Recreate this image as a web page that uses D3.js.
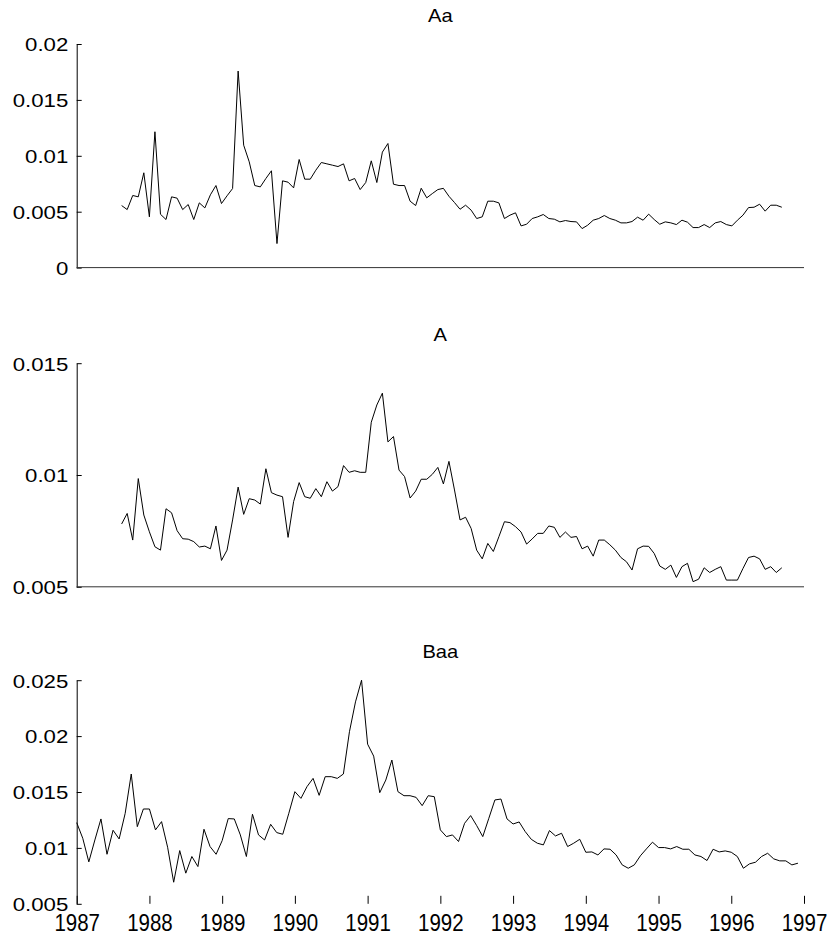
<!DOCTYPE html>
<html>
<head>
<meta charset="utf-8">
<script src="https://cdn.jsdelivr.net/npm/d3@7"></script>
<style>
  html, body { margin: 0; padding: 0; background: #fff; }
  svg { display: block; font-family: "Liberation Sans", Arial, sans-serif; }
</style>
</head>
<body>
<svg id="chart" width="832" height="941"></svg>
<script>
// ---------------- data ----------------
const titles = ["Aa", "A", "Baa"];
const yearTicks = [1987, 1988, 1989, 1990, 1991, 1992, 1993, 1994, 1995, 1996, 1997];
const aaTicks = [0, 0.005, 0.01, 0.015, 0.02];
const aTicks = [0.005, 0.01, 0.015];
const baaTicks = [0.005, 0.01, 0.015, 0.02, 0.025];

// Aa spread, observations 1..120
const aaValues = [
  0.00555, 0.00519, 0.00645, 0.00633, 0.00848, 0.00454, 0.01215, 0.00477, 0.00430, 0.00633,
  0.00621, 0.00519, 0.00564, 0.00430, 0.00579, 0.00534, 0.00651, 0.00734, 0.00573, 0.00642,
  0.00707, 0.01758, 0.01095, 0.00946, 0.00734, 0.00722, 0.00797, 0.00866, 0.00215, 0.00776,
  0.00764, 0.00713, 0.00967, 0.00791, 0.00791, 0.00871, 0.00940, 0.00928, 0.00916, 0.00904,
  0.00928, 0.00776, 0.00797, 0.00698, 0.00761, 0.00955, 0.00761, 0.01033, 0.01110, 0.00746,
  0.00734, 0.00734, 0.00594, 0.00555, 0.00710, 0.00624, 0.00662, 0.00698, 0.00709, 0.00638,
  0.00582, 0.00522, 0.00558, 0.00514, 0.00439, 0.00454, 0.00594, 0.00594, 0.00579, 0.00439,
  0.00469, 0.00490, 0.00373, 0.00388, 0.00439, 0.00454, 0.00475, 0.00439, 0.00433, 0.00409,
  0.00421, 0.00412, 0.00409, 0.00349, 0.00379, 0.00424, 0.00439, 0.00466, 0.00439, 0.00424,
  0.00400, 0.00400, 0.00412, 0.00451, 0.00424, 0.00478, 0.00430, 0.00388, 0.00409, 0.00400,
  0.00385, 0.00424, 0.00406, 0.00358, 0.00358, 0.00385, 0.00358, 0.00400, 0.00412, 0.00385,
  0.00373, 0.00424, 0.00469, 0.00537, 0.00540, 0.00567, 0.00505, 0.00558, 0.00558, 0.00540
];

// A spread, observations 1..120
const aValues = [
  0.00781, 0.00828, 0.00709, 0.00984, 0.00821, 0.00746, 0.00679, 0.00664, 0.00849, 0.00831,
  0.00751, 0.00715, 0.00713, 0.00702, 0.00678, 0.00682, 0.00670, 0.00772, 0.00618, 0.00664,
  0.00799, 0.00946, 0.00824, 0.00894, 0.00888, 0.00870, 0.01028, 0.00921, 0.00910, 0.00903,
  0.00721, 0.00881, 0.00966, 0.00903, 0.00896, 0.00939, 0.00903, 0.00970, 0.00928, 0.00948,
  0.01042, 0.01012, 0.01019, 0.01012, 0.01012, 0.01236, 0.01313, 0.01366, 0.01148, 0.01172,
  0.01022, 0.00993, 0.00897, 0.00928, 0.00981, 0.00981, 0.01003, 0.01034, 0.00960, 0.01061,
  0.00933, 0.00799, 0.00811, 0.00761, 0.00664, 0.00625, 0.00694, 0.00658, 0.00724, 0.00791,
  0.00787, 0.00769, 0.00745, 0.00691, 0.00714, 0.00739, 0.00739, 0.00772, 0.00766, 0.00721,
  0.00745, 0.00721, 0.00725, 0.00670, 0.00682, 0.00637, 0.00709, 0.00709, 0.00688, 0.00664,
  0.00631, 0.00612, 0.00575, 0.00670, 0.00682, 0.00681, 0.00649, 0.00593, 0.00578, 0.00597,
  0.00542, 0.00590, 0.00605, 0.00523, 0.00534, 0.00585, 0.00564, 0.00578, 0.00590, 0.00530,
  0.00530, 0.00530, 0.00582, 0.00631, 0.00637, 0.00625, 0.00578, 0.00590, 0.00564, 0.00585
];

// Baa spread, monthly Jan 1987 .. Dec 1996
const baaValues = [
  0.01226, 0.01086, 0.00875, 0.01071, 0.01259, 0.00943, 0.01158, 0.01080, 0.01309, 0.01661,
  0.01190, 0.01348, 0.01348, 0.01161, 0.01235, 0.01006, 0.00693, 0.00976, 0.00774, 0.00923,
  0.00833, 0.01167, 0.01012, 0.00943, 0.01065, 0.01262, 0.01259, 0.01116, 0.00923, 0.01301,
  0.01116, 0.01071, 0.01211, 0.01137, 0.01122, 0.01310, 0.01503, 0.01443, 0.01548, 0.01622,
  0.01470, 0.01637, 0.01637, 0.01622, 0.01661, 0.02039, 0.02306, 0.02500, 0.01928, 0.01821,
  0.01494, 0.01607, 0.01786, 0.01503, 0.01467, 0.01467, 0.01452, 0.01378, 0.01467, 0.01458,
  0.01161, 0.01101, 0.01116, 0.01057, 0.01220, 0.01289, 0.01199, 0.01101, 0.01265, 0.01429,
  0.01437, 0.01259, 0.01214, 0.01232, 0.01146, 0.01077, 0.01042, 0.01027, 0.01155, 0.01107,
  0.01131, 0.01012, 0.01042, 0.01077, 0.00961, 0.00964, 0.00937, 0.00991, 0.00988, 0.00937,
  0.00848, 0.00818, 0.00848, 0.00929, 0.00991, 0.01051, 0.01003, 0.01003, 0.00991, 0.01012,
  0.00988, 0.00988, 0.00937, 0.00923, 0.00887, 0.00988, 0.00964, 0.00973, 0.00961, 0.00923,
  0.00818, 0.00857, 0.00872, 0.00923, 0.00952, 0.00902, 0.00884, 0.00884, 0.00848, 0.00863
];

// ---------------- layout ----------------
const svg = d3.select("#chart");
const left = 76.7, right = 804;
const plotH = 223.6;
const panelTops = [44, 363.2, 680.2];

const xIndex = d3.scaleLinear().domain([-7.1, 124.0]).range([left, right]);
const xYear = d3.scaleLinear().domain([1987, 1997]).range([left, right]);

const panels = [
  { title: titles[0], values: aaValues, ticks: aaTicks, domain: [0, 0.02], x: (d, i) => xIndex(i + 1), baseline: true },
  { title: titles[1], values: aValues, ticks: aTicks, domain: [0.005, 0.015], x: (d, i) => xIndex(i + 1), baseline: true },
  { title: titles[2], values: baaValues, ticks: baaTicks, domain: [0.005, 0.025], x: (d, i) => xYear(1987 + i / 12), baseline: false }
];

panels.forEach((p, k) => {
  const top = panelTops[k];
  const y = d3.scaleLinear().domain(p.domain).range([top + plotH, top]);
  const g = svg.append("g");

  // title
  g.append("text")
    .attr("x", (left + right) / 2)
    .attr("y", top - 22)
    .attr("text-anchor", "middle")
    .attr("font-size", 18)
    .attr("transform-origin", `${(left + right) / 2}px ${top - 22}px`)
    .attr("transform", "scale(1.12,1)")
    .text(p.title);

  // y axis
  const yAxis = d3.axisLeft(y)
    .tickValues(p.ticks)
    .tickFormat(d => String(d))
    .tickSizeInner(-5)
    .tickSizeOuter(0)
    .tickPadding(8);
  const ya = g.append("g").attr("transform", `translate(${left},0)`).call(yAxis);
  ya.select(".domain").attr("stroke", "#000");
  ya.selectAll(".tick line").attr("stroke", "#000");
  ya.selectAll(".tick text")
    .attr("x", 0)
    .attr("dy", "0.36em")
    .attr("font-size", 19)
    .attr("fill", "#000")
    .attr("font-family", "Liberation Sans, Arial, sans-serif")
    .attr("transform", "translate(-8.4,0) scale(1.17,1)");

  if (p.baseline) {
    g.append("line")
      .attr("x1", left).attr("x2", right)
      .attr("y1", top + plotH).attr("y2", top + plotH)
      .attr("stroke", "#333").attr("stroke-width", 1);
  } else {
    const xAxis = d3.axisBottom(xYear)
      .tickValues(yearTicks)
      .tickFormat(d3.format("d"))
      .tickSizeInner(-8)
      .tickSizeOuter(0)
      .tickPadding(0);
    const xa = g.append("g").attr("transform", `translate(0,${top + plotH})`).call(xAxis);
    xa.select(".domain").remove();
    xa.selectAll(".tick line").attr("stroke", "#000");
    xa.selectAll(".tick text")
      .attr("y", 0)
      .attr("dy", 0)
      .attr("font-size", 20.5)
      .attr("fill", "#000")
      .attr("font-family", "Liberation Sans, Arial, sans-serif")
      .attr("transform", "translate(0,26.7) scale(1,1.15)");
  }

  // series line
  const line = d3.line()
    .x(p.x)
    .y(d => y(d));
  g.append("path")
    .datum(p.values)
    .attr("fill", "none")
    .attr("stroke", "#000")
    .attr("stroke-width", 1)
    .attr("stroke-linejoin", "round")
    .attr("d", line);
});
</script>
</body>
</html>
